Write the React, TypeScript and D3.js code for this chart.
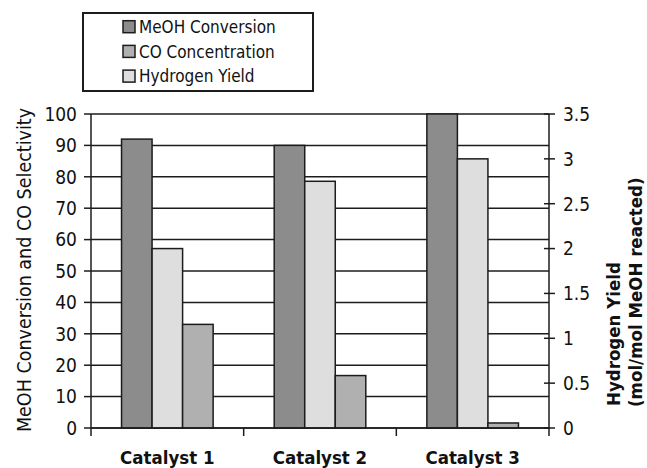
import * as d3 from "d3";

const categories = ["Catalyst 1", "Catalyst 2", "Catalyst 3"];
const seriesNames = ["MeOH Conversion", "CO Concentration", "Hydrogen Yield"];
const meohConversion = [92, 90, 100];
const coConcentration = [33, 16.7, 1.6];
const hydrogenYield = [2.0, 2.75, 3.0];
const leftTicks = [0, 10, 20, 30, 40, 50, 60, 70, 80, 90, 100];
const rightTicks = [0, 0.5, 1, 1.5, 2, 2.5, 3, 3.5];

// drawing order inside each group
const barOrder = ["MeOH Conversion", "Hydrogen Yield", "CO Concentration"];
const fills: Record<string, string> = {
  "MeOH Conversion": "#8c8c8c",
  "CO Concentration": "#b0b0b0",
  "Hydrogen Yield": "#dedede",
};

const W = 647;
const H = 468;
const font = "DejaVu Sans Condensed, DejaVu Sans, sans-serif";
const ink = "#1c1c1c";

export default function App() {
  const plot = { left: 91, right: 549, top: 114, bottom: 428 };

  const x = d3.scaleBand<string>().domain(categories).range([plot.left, plot.right]);
  const inner = d3
    .scaleBand<string>()
    .domain(barOrder)
    .range([0, x.bandwidth()])
    .paddingInner(0)
    .paddingOuter(1);
  const yL = d3.scaleLinear().domain([0, 100]).range([plot.bottom, plot.top]);
  const yR = d3.scaleLinear().domain([0, 3.5]).range([plot.bottom, plot.top]);

  const valueY = (name: string, i: number) => {
    if (name === "MeOH Conversion") return yL(meohConversion[i]);
    if (name === "CO Concentration") return yL(coConcentration[i]);
    return yR(hydrogenYield[i]);
  };

  const boundaries = [...categories.map((c) => x(c) as number), plot.right];

  return (
    <div style={{ position: "absolute", left: 0, top: 0 }}>
      <svg width={W} height={H} style={{ display: "block", background: "#fff" }}>
        {/* legend */}
        <rect x={83} y={13} width={230} height={78} fill="#fff" stroke={ink} strokeWidth={2} />
        {seriesNames.map((s, i) => {
          const cy = 26.7 + i * 24.7;
          return (
            <g key={s}>
              <rect x={123} y={cy - 6} width={12} height={12} fill={fills[s]} stroke={ink} strokeWidth={1.5} />
              <text x={139} y={cy} dy="0.36em" fontFamily={font} fontSize={17} fill="#111">
                {s}
              </text>
            </g>
          );
        })}

        {/* gridlines */}
        {leftTicks.map((t) => (
          <line key={t} x1={plot.left} x2={plot.right} y1={yL(t)} y2={yL(t)} stroke={ink} strokeWidth={1.5} />
        ))}

        {/* bars */}
        {categories.map((c, i) => (
          <g key={c} transform={`translate(${x(c)},0)`}>
            {barOrder.map((s) => {
              const top = valueY(s, i);
              return (
                <rect
                  key={s}
                  x={inner(s)}
                  y={top}
                  width={inner.bandwidth()}
                  height={plot.bottom - top}
                  fill={fills[s]}
                  stroke={ink}
                  strokeWidth={1.5}
                />
              );
            })}
          </g>
        ))}

        {/* axes */}
        <line x1={plot.left} x2={plot.left} y1={plot.top} y2={plot.bottom} stroke={ink} strokeWidth={1.5} />
        <line x1={plot.right} x2={plot.right} y1={plot.top} y2={plot.bottom} stroke={ink} strokeWidth={1.5} />
        <line x1={plot.left} x2={plot.right} y1={plot.bottom} y2={plot.bottom} stroke={ink} strokeWidth={1.5} />

        {leftTicks.map((t) => (
          <g key={t}>
            <line x1={plot.left - 7} x2={plot.left} y1={yL(t)} y2={yL(t)} stroke={ink} strokeWidth={1.5} />
            <text
              x={77}
              y={yL(t)}
              dy="0.36em"
              textAnchor="end"
              fontFamily={font}
              fontSize={19}
              fill="#111"
            >
              {t}
            </text>
          </g>
        ))}

        {rightTicks.map((t) => (
          <g key={t}>
            <line x1={plot.right - 5} x2={plot.right + 6} y1={yR(t)} y2={yR(t)} stroke={ink} strokeWidth={1.5} />
            <text x={563} y={yR(t)} dy="0.36em" fontFamily={font} fontSize={19} fill="#111">
              {t}
            </text>
          </g>
        ))}

        {boundaries.map((b, i) => (
          <line key={i} x1={b} x2={b} y1={plot.bottom} y2={plot.bottom + 8} stroke={ink} strokeWidth={1.5} />
        ))}

        {categories.map((c) => (
          <text
            key={c}
            x={(x(c) as number) + x.bandwidth() / 2}
            y={464}
            textAnchor="middle"
            fontFamily={font}
            fontSize={18.5}
            fontWeight="bold"
            fill="#111"
          >
            {c}
          </text>
        ))}

        {/* axis titles */}
        <text
          transform={`translate(24,${(plot.top + plot.bottom) / 2 - 1}) rotate(-90)`}
          dy="0.36em"
          textAnchor="middle"
          fontFamily={font}
          fontSize={19.5}
          fill="#111"
        >
          MeOH Conversion and CO Selectivity
        </text>
        <text
          transform="translate(620,406) rotate(-90)"
          fontFamily={font}
          fontSize={18.5}
          fontWeight="bold"
          fill="#111"
        >
          Hydrogen Yield
        </text>
        <text
          transform="translate(642,407) rotate(-90)"
          fontFamily={font}
          fontSize={18.5}
          fontWeight="bold"
          fill="#111"
        >
          (mol/mol MeOH reacted)
        </text>
      </svg>
    </div>
  );
}
